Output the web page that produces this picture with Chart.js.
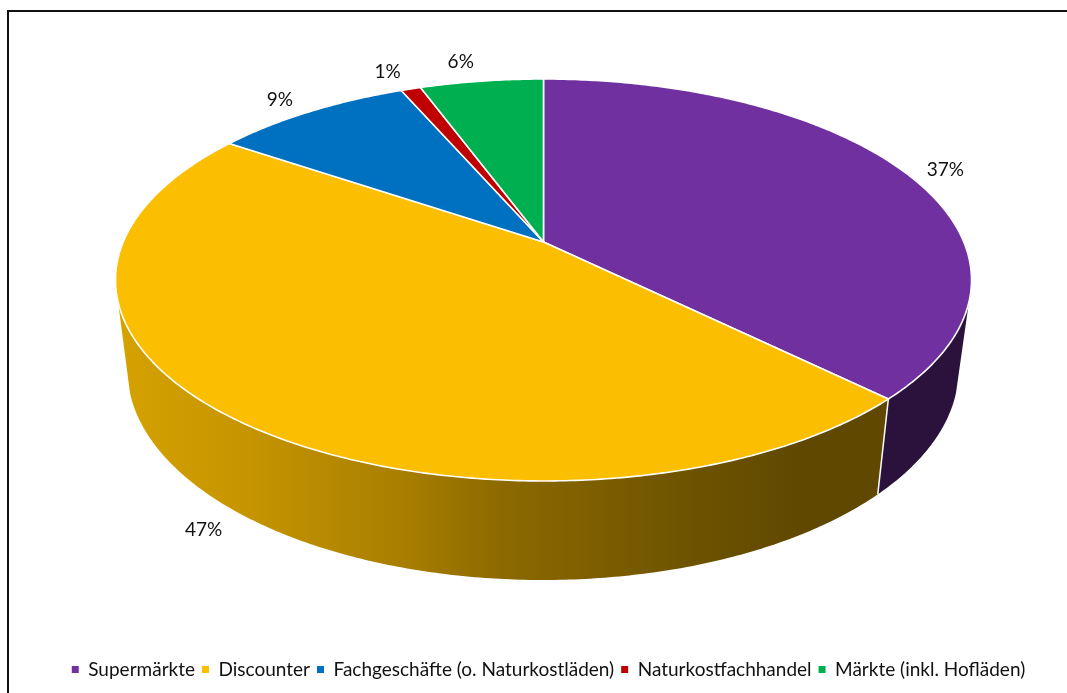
<!DOCTYPE html>
<html lang="de">
<head>
<meta charset="utf-8">
<title>Einkaufsstätten</title>
<style>html,body{margin:0;padding:0;background:#fff;overflow:hidden}canvas{display:block}</style>
<script src="https://cdn.jsdelivr.net/npm/chart.js@4"></script>
</head>
<body>
<canvas id="c" width="1067" height="693"></canvas>
<script>
const categories = ['Supermärkte','Discounter','Fachgeschäfte (o. Naturkostläden)','Naturkostfachhandel','Märkte (inkl. Hofläden)'];
const shares = [37.4, 47.1, 9.0, 0.9, 5.6];
const sliceColors = ['#7030A0','#FCBE00','#0070C0','#C00000','#00B050'];

// Perspective view of the pie: top face and lower rim of the disc
const K = 0.189;
const topRim = {cx:543.5, cy:242, A:193.8, B:420.3};
const lowRim = {cx:543, cy:330.3, A:202.5, B:408};
const VIS_FROM = 107*Math.PI/180, VIS_TO = 253*Math.PI/180;
const shadeStops = [[116,.85],[250,.78],[400,.67],[500,.56],[700,.43],[800,.38],[971,.38]];

function project(theta, rim){
  const u = Math.sin(theta), v = Math.cos(theta), w = 1 + K*v;
  return [rim.cx + rim.B*u/w, rim.cy - rim.A*v/w];
}
function rimPath(ctx, a, b, rim, first){
  const n = Math.max(2, Math.ceil(Math.abs(b-a)/0.01));
  for(let i=0;i<=n;i++){
    const p = project(a+(b-a)*i/n, rim);
    (first && i===0) ? ctx.moveTo(p[0],p[1]) : ctx.lineTo(p[0],p[1]);
  }
}
function shade(hex,f){
  const n=parseInt(hex.slice(1),16);
  return `rgb(${Math.round((n>>16)*f)},${Math.round(((n>>8)&255)*f)},${Math.round((n&255)*f)})`;
}

const frame = {
  id:'frame',
  beforeDraw(chart){
    const c=chart.ctx; c.save();
    c.strokeStyle='#111'; c.lineWidth=2;
    c.beginPath(); c.moveTo(8,693); c.lineTo(8,11); c.lineTo(1067,11); c.stroke();
    c.restore();
  }
};

const pie3d = {
  id:'pie3d',
  beforeDatasetDraw(chart,args){
    const ctx=chart.ctx, arcs=args.meta.data;
    const angle=(arc)=>[arc.startAngle+Math.PI/2, arc.endAngle+Math.PI/2];
    ctx.save();
    // side wall
    arcs.forEach((arc,i)=>{
      const [s,e]=angle(arc);
      const a=Math.max(s,VIS_FROM), b=Math.min(e,VIS_TO);
      if(b<=a) return;
      const g=ctx.createLinearGradient(116,0,971,0);
      shadeStops.forEach(([x,f])=>g.addColorStop((x-116)/855,shade(sliceColors[i],f)));
      ctx.beginPath();
      rimPath(ctx,a,b,topRim,true);
      rimPath(ctx,b,a,lowRim,false);
      ctx.closePath();
      ctx.fillStyle=g; ctx.fill();
    });
    // wall separators
    ctx.strokeStyle='#fff'; ctx.lineWidth=1.5;
    arcs.forEach((arc)=>{
      const [s]=angle(arc);
      if(s>VIS_FROM && s<VIS_TO){
        const p=project(s,topRim), q=project(s,lowRim);
        ctx.beginPath(); ctx.moveTo(p[0],p[1]); ctx.lineTo(q[0],q[1]); ctx.stroke();
      }
    });
    // top faces
    arcs.forEach((arc,i)=>{
      const [s,e]=angle(arc);
      ctx.beginPath();
      ctx.moveTo(topRim.cx,topRim.cy);
      rimPath(ctx,s,e,topRim,false);
      ctx.closePath();
      ctx.fillStyle=sliceColors[i]; ctx.fill();
      ctx.strokeStyle='#fff'; ctx.lineWidth=1.6; ctx.lineJoin='round'; ctx.stroke();
    });
    // value labels
    ctx.font='19px Lato, Carlito, sans-serif';
    ctx.fillStyle='#111'; ctx.textAlign='center'; ctx.textBaseline='middle';
    arcs.forEach((arc,i)=>{
      const [s,e]=angle(arc), m=(s+e)/2;
      const u=Math.sin(m), v=Math.cos(m);
      const low=m>VIS_FROM && m<VIS_TO;
      const p=project(m,low?lowRim:topRim);
      const dx=Math.sign(u)*(low?22+22*Math.abs(u):20+24*u*u);
      const dy=v<0?-21*v:-20*v*v;
      ctx.fillText(Math.round(shares[i])+'%',p[0]+dx,p[1]+dy);
    });
    ctx.restore();
    return false;
  }
};

new Chart(document.getElementById('c'),{
  type:'pie',
  data:{labels:categories,datasets:[{data:shares,backgroundColor:sliceColors,borderColor:'#fff',borderWidth:0}]},
  options:{
    responsive:false,
    animation:false,
    layout:{padding:{left:30,right:0,top:20,bottom:4}},
    plugins:{
      tooltip:{enabled:false},
      legend:{
        position:'bottom',
        labels:{usePointStyle:true,pointStyle:'rect',boxWidth:7,boxHeight:7,padding:7,color:'#111',
          font:{family:'Lato, Carlito, sans-serif',size:19}}
      }
    }
  },
  plugins:[frame,pie3d]
});
</script>
</body>
</html>
